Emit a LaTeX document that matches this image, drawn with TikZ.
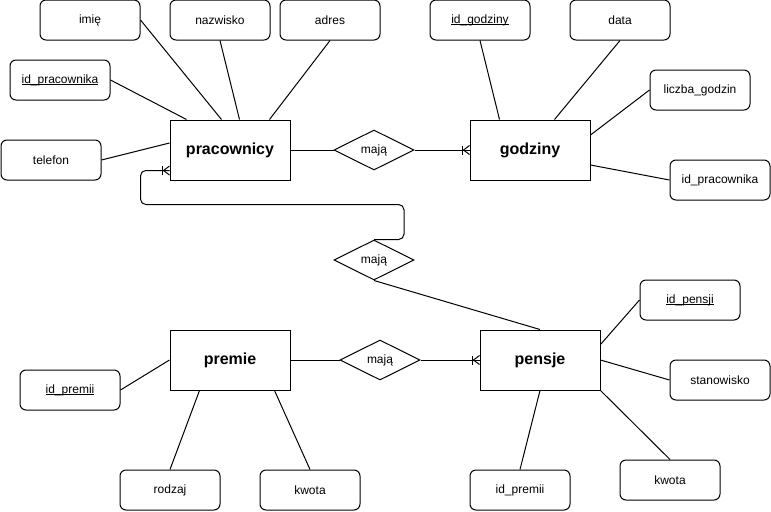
\documentclass[tikz,border=0pt]{standalone}
\usepackage{fontspec}
\setmainfont{Liberation Sans}
\usetikzlibrary{shapes.geometric}

\tikzset{
  entitybox/.style={draw, rectangle, minimum width=90pt, minimum height=45pt, inner sep=0pt,
    font=\fontsize{12}{14}\selectfont\bfseries},
  attrbox/.style={draw, rectangle, rounded corners=4.5pt, minimum width=75pt, minimum height=30pt,
    inner sep=0pt, font=\fontsize{9}{11}\selectfont},
  relbox/.style={draw, diamond, aspect=2, minimum width=60pt, minimum height=30pt, inner sep=0pt,
    font=\fontsize{9}{11}\selectfont}
}

\newcommand{\crowfoot}[1]{%
  \begin{scope}[shift={(#1)}]
    \draw (-7.5,-4.5) -- (-7.5,4.5);
    \draw (0,-4.5) -- (-6,0) -- (0,4.5);
  \end{scope}}
\newcommand{\keyattr}[1]{\setbox0\hbox{#1}\rlap{\rule[-1.3pt]{\wd0}{0.6pt}}\box0}

\begin{document}
\begin{tikzpicture}[x=0.75pt, y=-0.75pt, line width=0.75pt]
    \useasboundingbox (0,0) rectangle (771,511);

    \node [entitybox] (prac) at (230,150) {pracownicy};
    \node [entitybox] (godz) at (530,150) {godziny};
    \node [entitybox] (premie) at (230,360) {premie};
    \node [entitybox] (pensje) at (540,360) {pensje};

    \node [relbox] (maja1) at (374,150) {mają};
    \node [relbox] (maja2) at (374,260) {mają};
    \node [relbox] (maja3) at (380,360) {mają};

    \node [attrbox] (imie) at (90,20) {imię};
    \node [attrbox] (nazw) at (220,20) {nazwisko};
    \node [attrbox] (adres) at (330,20) {adres};
    \node [attrbox] (idprac) at (60,80) {\keyattr{id\_pracownika}};
    \node [attrbox] (telefon) at (51,160) {telefon};

    \node [attrbox] (idgodz) at (480,20) {\keyattr{id\_godziny}};
    \node [attrbox] (data) at (620,20) {data};
    \node [attrbox] (liczba) at (700,90) {liczba\_godzin};
    \node [attrbox] (idprac2) at (720,180) {id\_pracownika};

    \node [attrbox] (idprem) at (70,390) {\keyattr{id\_premii}};
    \node [attrbox] (rodzaj) at (170,490) {rodzaj};
    \node [attrbox] (kwota1) at (310,490) {kwota};

    \node [attrbox] (idpensji) at (690,300) {\keyattr{id\_pensji}};
    \node [attrbox] (stanow) at (720,380) {stanowisko};
    \node [attrbox] (kwota2) at (670,480) {kwota};
    \node [attrbox] (idprem2) at (520,490) {id\_premii};

    \draw (idprac.east) -- ([xshift=12.75pt]prac.north west);
    \draw (imie.east) -- ([xshift=39pt]prac.north west);
    \draw (nazw.south) -- ([xshift=52.5pt]prac.north west);
    \draw (adres.south) -- ([xshift=75pt]prac.north west);
    \draw (telefon.east) -- ([yshift=5.25pt]prac.west);

    \draw (idgodz.south) -- ([xshift=22.5pt]godz.north west);
    \draw (data.south) -- ([xshift=63.75pt]godz.north west);
    \draw (liczba.west) -- ([yshift=11.25pt]godz.east);
    \draw (idprac2.west) -- ([yshift=-11.25pt]godz.east);

    \draw (idprem.east) -- (premie.west);
    \draw (rodzaj.north) -- ([xshift=22.5pt]premie.south west);
    \draw (kwota1.north) -- ([xshift=78.75pt]premie.south west);

    \draw (idpensji.west) -- ([yshift=-11.25pt]pensje.north east);
    \draw (stanow.west) -- (pensje.east);
    \draw (kwota2.north) -- (pensje.south east);
    \draw (idprem2.north) -- (pensje.south);

    \draw (prac.east) -- (maja1.west);
    \draw (maja1.east) -- (godz.west);
    \crowfoot{godz.west}

    \draw [rounded corners=4pt] (maja2.north) -- ++(30,0) -- ++(0,-35)
        -| ([xshift=-21.75pt, yshift=7.5pt]prac.south west) -- ([yshift=7.5pt]prac.south west);
    \crowfoot{[yshift=7.5pt]prac.south west}
    \draw (maja2.south) -- (pensje.north);

    \draw (premie.east) -- (maja3.west);
    \draw (maja3.east) -- (pensje.west);
    \crowfoot{pensje.west}
\end{tikzpicture}
\end{document}
